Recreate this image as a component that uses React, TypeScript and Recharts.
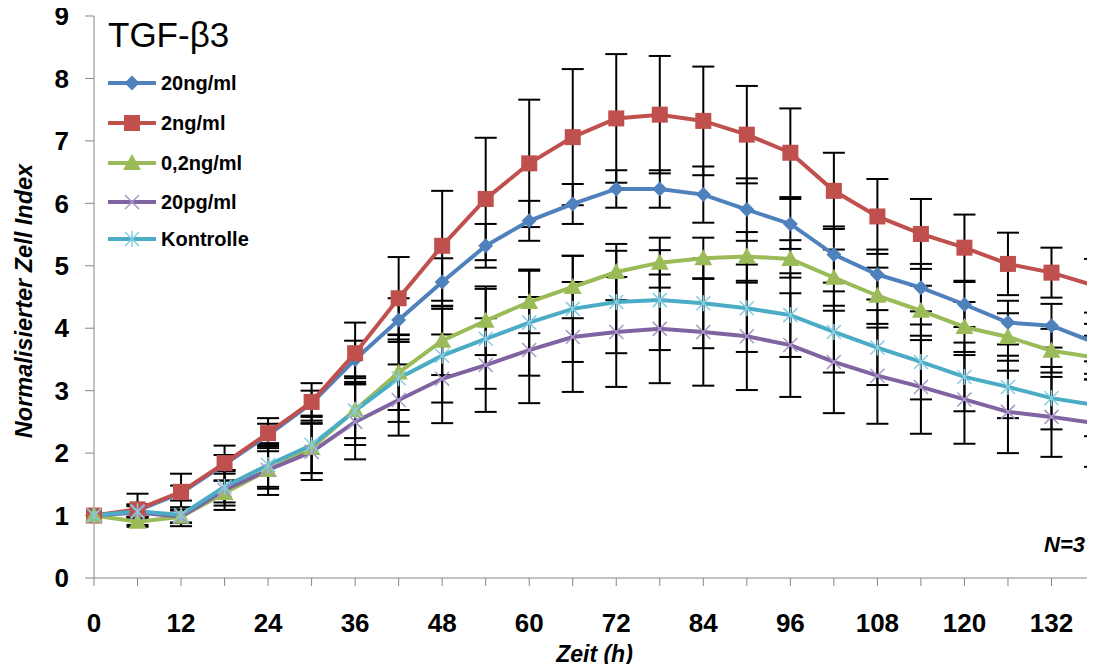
import React from 'react';
import {
  LineChart,
  Line,
  XAxis,
  YAxis,
  ErrorBar,
} from 'recharts';

// Zeitpunkte (h)
const hours = [0, 6, 12, 18, 24, 30, 36, 42, 48, 54, 60, 66, 72, 78, 84, 90, 96, 102, 108, 114, 120, 126, 132, 138];

// Mittelwerte je Konzentration
const ng20 = [1.0, 1.08, 1.36, 1.82, 2.29, 2.8, 3.5, 4.13, 4.74, 5.32, 5.72, 5.99, 6.23, 6.23, 6.14, 5.9, 5.67, 5.18, 4.86, 4.65, 4.38, 4.09, 4.04, 3.77];
const ng2 = [1.0, 1.1, 1.38, 1.84, 2.32, 2.82, 3.6, 4.48, 5.32, 6.07, 6.64, 7.06, 7.36, 7.42, 7.32, 7.1, 6.81, 6.2, 5.79, 5.51, 5.29, 5.03, 4.89, 4.68];
const ng02 = [1.0, 0.9, 0.98, 1.36, 1.73, 2.08, 2.69, 3.29, 3.8, 4.12, 4.42, 4.66, 4.9, 5.05, 5.12, 5.15, 5.11, 4.81, 4.52, 4.28, 4.02, 3.86, 3.64, 3.53];
const pg20 = [1.0, 1.05, 0.98, 1.41, 1.73, 2.02, 2.5, 2.85, 3.19, 3.41, 3.65, 3.86, 3.94, 3.99, 3.94, 3.87, 3.73, 3.46, 3.24, 3.06, 2.86, 2.66, 2.58, 2.48];
const kontrolle = [1.0, 1.07, 1.01, 1.46, 1.81, 2.13, 2.68, 3.2, 3.56, 3.83, 4.09, 4.31, 4.42, 4.45, 4.4, 4.32, 4.21, 3.94, 3.69, 3.46, 3.22, 3.06, 2.88, 2.77];

// Standardabweichungen
const ng20Err = [0, 0.1, 0.12, 0.15, 0.18, 0.2, 0.3, 0.35, 0.38, 0.35, 0.32, 0.32, 0.3, 0.3, 0.45, 0.5, 0.4, 0.45, 0.4, 0.38, 0.36, 0.35, 0.35, 0.3];
const ng2Err = [0, 0.25, 0.29, 0.28, 0.24, 0.3, 0.49, 0.66, 0.88, 0.98, 1.02, 1.09, 1.03, 0.94, 0.87, 0.78, 0.71, 0.61, 0.6, 0.56, 0.53, 0.5, 0.4, 0.43];
const ng02Err = [0, 0.08, 0.1, 0.2, 0.3, 0.4, 0.45, 0.6, 0.55, 0.55, 0.5, 0.5, 0.45, 0.4, 0.33, 0.39, 0.3, 0.45, 0.45, 0.4, 0.4, 0.38, 0.35, 0.35];
const pg20Err = [0, 0.1, 0.15, 0.32, 0.4, 0.45, 0.6, 0.57, 0.71, 0.75, 0.85, 0.88, 0.88, 0.87, 0.86, 0.86, 0.83, 0.82, 0.77, 0.75, 0.71, 0.66, 0.64, 0.7];
const kontrolleErr = [0, 0.1, 0.12, 0.25, 0.35, 0.45, 0.55, 0.7, 0.75, 0.8, 0.85, 0.85, 0.82, 0.8, 0.72, 0.7, 0.67, 0.65, 0.6, 0.6, 0.55, 0.5, 0.5, 0.5];

const xTicks = [0, 6, 12, 18, 24, 30, 36, 42, 48, 54, 60, 66, 72, 78, 84, 90, 96, 102, 108, 114, 120, 126, 132, 138];
const yTicks = [0, 1, 2, 3, 4, 5, 6, 7, 8, 9];

type Marker = 'diamond' | 'square' | 'triangle' | 'x' | 'star';

const series = [
  { key: 'ng20', name: '20ng/ml', color: '#4F81BD', marker: 'diamond' as Marker, values: ng20, errors: ng20Err },
  { key: 'ng2', name: '2ng/ml', color: '#C0504D', marker: 'square' as Marker, values: ng2, errors: ng2Err },
  { key: 'ng02', name: '0,2ng/ml', color: '#9BBB59', marker: 'triangle' as Marker, values: ng02, errors: ng02Err },
  { key: 'pg20', name: '20pg/ml', color: '#8064A2', marker: 'x' as Marker, values: pg20, errors: pg20Err },
  { key: 'kontrolle', name: 'Kontrolle', color: '#4BACC6', marker: 'star' as Marker, values: kontrolle, errors: kontrolleErr },
];

const data = hours.map((h, i) => {
  const row: Record<string, number> = { h };
  series.forEach(s => {
    row[s.key] = s.values[i];
    row[s.key + 'Err'] = s.errors[i];
  });
  return row;
});

const FONT = "'Liberation Sans', Arial, sans-serif";

function drawMarker(kind: Marker, cx: number, cy: number, color: string, key?: React.Key) {
  switch (kind) {
    case 'diamond':
      return (
        <polygon key={key} points={`${cx},${cy - 7.5} ${cx + 7.5},${cy} ${cx},${cy + 7.5} ${cx - 7.5},${cy}`} fill={color} />
      );
    case 'square':
      return <rect key={key} x={cx - 8} y={cy - 8} width={16} height={16} fill={color} />;
    case 'triangle':
      return (
        <polygon key={key} points={`${cx},${cy - 9} ${cx + 9},${cy + 7} ${cx - 9},${cy + 7}`} fill={color} />
      );
    case 'x':
      return (
        <g key={key} stroke="#A995C8" strokeWidth={1.5}>
          <line x1={cx - 7} y1={cy - 7} x2={cx + 7} y2={cy + 7} />
          <line x1={cx - 7} y1={cy + 7} x2={cx + 7} y2={cy - 7} />
        </g>
      );
    default:
      return (
        <g key={key} stroke="#86CDE0" strokeWidth={1.5}>
          <line x1={cx - 7} y1={cy - 7} x2={cx + 7} y2={cy + 7} />
          <line x1={cx - 7} y1={cy + 7} x2={cx + 7} y2={cy - 7} />
          <line x1={cx} y1={cy - 8} x2={cx} y2={cy + 8} />
        </g>
      );
  }
}

const YLabel = ({ viewBox }: any) => {
  const cx = viewBox.x + 32;
  const cy = viewBox.y + viewBox.height / 2 + 4;
  return (
    <text
      x={cx}
      y={cy}
      transform={`rotate(-90, ${cx}, ${cy})`}
      textAnchor="middle"
      fontFamily={FONT}
      fontWeight="bold"
      fontStyle="italic"
      fontSize={23.5}
      fill="#000"
    >
      Normalisierter Zell Index
    </text>
  );
};

const XLabel = ({ viewBox }: any) => (
  <text
    x={viewBox.x + viewBox.width / 2}
    y={viewBox.y + 84}
    textAnchor="middle"
    fontFamily={FONT}
    fontWeight="bold"
    fontStyle="italic"
    fontSize={23}
    fill="#000"
  >
    Zeit (h)
  </text>
);

const legendRows = [83, 123, 163, 202, 239];

export default function App() {
  return (
    <div style={{ position: 'relative', width: 1095, height: 672, margin: -8 }}>
      <LineChart width={1095} height={672} data={data} margin={{ top: 16, right: 0, bottom: 0, left: 0 }}>
        <XAxis
          type="number"
          dataKey="h"
          domain={[0, 138]}
          ticks={xTicks}
          interval={0}
          tickSize={8}
          tickMargin={28}
          height={94}
          stroke="#868686"
          tick={{ fill: '#000', fontFamily: FONT, fontWeight: 'bold', fontSize: 26 }}
          tickFormatter={(v: number) => (v % 12 === 0 && v <= 132 ? String(v) : '')}
          label={<XLabel />}
        />
        <YAxis
          type="number"
          domain={[0, 9]}
          ticks={yTicks}
          interval={0}
          width={94}
          tickSize={9}
          tickMargin={16}
          stroke="#868686"
          tick={{ fill: '#000', fontFamily: FONT, fontWeight: 'bold', fontSize: 26 }}
          label={<YLabel />}
        />

        {/* Fehlerbalken zuerst, damit sie hinter den Linien liegen */}
        {series.map(s => (
          <Line
            key={s.key + '-err'}
            dataKey={s.key}
            stroke="none"
            dot={false}
            activeDot={false}
            legendType="none"
            isAnimationActive={false}
          >
            <ErrorBar dataKey={s.key + 'Err'} width={11} strokeWidth={2} stroke="#000" direction="y" isAnimationActive={false} />
          </Line>
        ))}

        {series.map(s => (
          <Line
            key={s.key}
            type="linear"
            dataKey={s.key}
            name={s.name}
            stroke={s.color}
            strokeWidth={4}
            dot={(p: any) => drawMarker(s.marker, p.cx, p.cy, s.color, `${s.key}-${p.index}`)}
            activeDot={false}
            isAnimationActive={false}
          />
        ))}
      </LineChart>

      <svg
        width={1095}
        height={672}
        style={{ position: 'absolute', left: 0, top: 0, pointerEvents: 'none' }}
      >
        <text x={108} y={47} fontFamily={FONT} fontSize={35} fill="#000">
          TGF-β3
        </text>
        {series.map((s, i) => (
          <g key={s.key}>
            <line x1={108} y1={legendRows[i]} x2={156} y2={legendRows[i]} stroke={s.color} strokeWidth={4} />
            {drawMarker(s.marker, 132, legendRows[i], s.color)}
            <text x={161} y={legendRows[i] + 7} fontFamily={FONT} fontWeight="bold" fontSize={20} fill="#000">
              {s.name}
            </text>
          </g>
        ))}
        <text
          x={1085}
          y={552}
          textAnchor="end"
          fontFamily={FONT}
          fontWeight="bold"
          fontStyle="italic"
          fontSize={22}
          fill="#000"
        >
          N=3
        </text>
      </svg>
    </div>
  );
}
